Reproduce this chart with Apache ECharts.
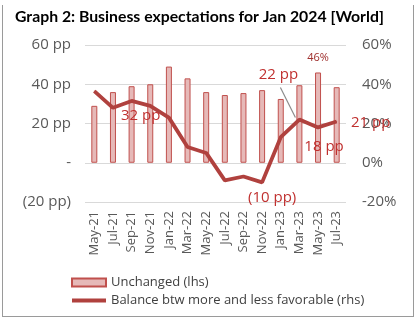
<!DOCTYPE html>
<html><head><meta charset="utf-8">
<script src="https://cdn.jsdelivr.net/npm/echarts@6/dist/echarts.min.js"></script>
<style>
html,body{margin:0;padding:0;background:#fff;}
#frame{position:absolute;left:2px;top:5px;width:410px;height:311px;border-left:1.5px solid #9a9a9a;border-right:1.5px solid #9a9a9a;border-bottom:1.5px solid #9a9a9a;}
#c{position:absolute;left:0;top:0;width:418px;height:322px;}
</style></head>
<body><div id="frame"></div><div id="c"></div>
<script>
const categories = ['May-21','Jul-21','Sep-21','Nov-21','Jan-22','Mar-22','May-22','Jul-22','Sep-22','Nov-22','Jan-23','Mar-23','May-23','Jul-23'];
const unchanged = [29, 36, 39, 40, 49, 43, 36, 34.5, 35.5, 37, 32.5, 39.5, 46, 38.5];
const balance = [36.5, 28, 31.5, 29, 23, 8, 5, -9, -7, -10, 13, 22, 18, 21];
const balanceLabels = {2:'32 pp', 9:'(10 pp)', 11:'22 pp', 12:'18 pp', 13:'21 pp'};
const barLabels = {12:'46%'};
const leftTicks = {60:'60 pp', 40:'40 pp', 20:'20 pp', 0:'-', '-20':'(20 pp)'};

const labelOffsets = {2:[9,15], 9:[10,15], 11:[-21,-45], 12:[6,19], 13:[34,1]};
const leaderIndex = 11;
const chart = echarts.init(document.getElementById('c'), null, {renderer:'canvas'});
const lineData = balance.map((v,i)=> balanceLabels[i]
  ? {value:v, label:{show:true, formatter:balanceLabels[i]}}
  : v);
const barData = unchanged.map((v,i)=> barLabels[i] ? {value:v, label:{show:true, formatter:barLabels[i]}} : v);
const font = '"Open Sans", sans-serif';
const lineName = 'Balance btw more and less favorable (rhs)';
chart.setOption({
  animation:false,
  textStyle:{fontFamily:font},
  title:{text:'Graph 2: Business expectations for Jan 2024 [World]', left:10, top:4,
    textStyle:{fontFamily:'Lato, sans-serif', fontWeight:'bold', fontSize:15.8, color:'#000'}},
  grid:{left:85, right:72, top:45, bottom:120, containLabel:false},
  legend:{orient:'vertical', left:66, top:271, itemWidth:34, itemHeight:8, itemGap:5, symbolKeepAspect:true,
    textStyle:{fontFamily:font, fontSize:13, color:'#404040'},
    data:[{name:'Unchanged (lhs)', icon:'rect'},
          {name:lineName, icon:'path://M0,0H34V4H0Z', itemStyle:{color:'#b0413e', borderWidth:0}}]},
  xAxis:{type:'category', data:categories, boundaryGap:true,
    axisLine:{show:false}, axisTick:{show:false},
    axisLabel:{rotate:90, interval:0, fontSize:13, color:'#595959', margin:9}},
  yAxis:[
    {type:'value', min:-20, max:60, interval:20, position:'left',
      axisLabel:{formatter:v=>leftTicks[v], fontSize:15, color:'#595959', margin:14},
      splitLine:{lineStyle:{color:'#d9d9d9', width:1}}, axisLine:{show:false}, axisTick:{show:false}},
    {type:'value', min:-20, max:60, interval:20, position:'right',
      axisLabel:{formatter:v=>v+'%', fontSize:15, color:'#595959', margin:16},
      splitLine:{show:false}, axisLine:{show:false}, axisTick:{show:false}}
  ],
  series:[
    {name:'Unchanged (lhs)', type:'bar', yAxisIndex:0, data:barData, barWidth:6,
      itemStyle:{color:'#e6b9b8', borderColor:'#c0504d', borderWidth:1},
      label:{show:false, position:'top', distance:9, fontSize:11, color:'#a0302e'}},
    {name:lineName, type:'line', yAxisIndex:1, data:lineData, z:3,
      symbol:'circle', symbolSize:1, showSymbol:true,
      lineStyle:{color:'#b0413e', width:3.8}, itemStyle:{color:'#b0413e'},
      label:{show:false, position:'inside', fontSize:15, color:'#c0302f'},
      labelLayout:function(p){
        const o = labelOffsets[p.dataIndex];
        if(!o) return {};
        return {dx:o[0], dy:o[1]};
      }}
  ]
});
// leader line for the "22 pp" label, anchored on the data point via the axis scales
const p = chart.convertToPixel({gridIndex:0}, [leaderIndex, balance[leaderIndex]]);
chart.setOption({series:[{}, {
  markLine:{silent:true, symbol:['none','none'], label:{show:false}, animation:false,
    lineStyle:{color:'#8c8c8c', width:1.2, type:'solid', opacity:1},
    data:[[{x:p[0]-19, y:p[1]-32}, {x:p[0]-4, y:p[1]-2}]]}
}]});
</script></body></html>
